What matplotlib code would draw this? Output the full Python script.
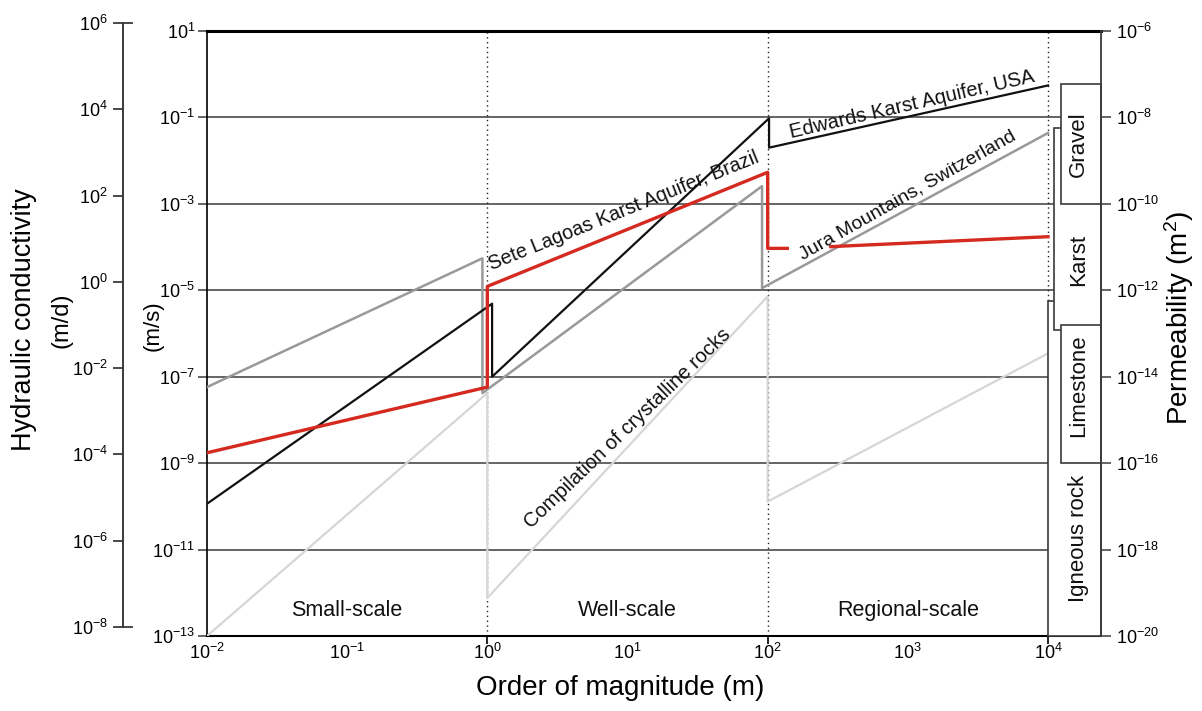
import numpy as np
import matplotlib
matplotlib.use('Agg')
from matplotlib import pyplot as plt
from matplotlib.patches import Rectangle
from matplotlib.ticker import FixedLocator, FuncFormatter, NullFormatter

plt.rcParams['font.family'] = ['Liberation Sans', 'DejaVu Sans']
plt.rcParams['mathtext.default'] = 'regular'

# log10 of scale (m) and of hydraulic conductivity (m/s)
crystalline_x = [-2, 0, 0, 2, 2, 4]
crystalline_k = [-13.0, -7.38, -12.12, -5.14, -9.89, -6.46]
jura_x = [-2, -0.035, -0.035, 1.96, 1.96, 4]
jura_k = [-7.24, -4.26, -7.38, -2.59, -4.95, -1.36]
edwards_x = [-2, 0.034, 0.034, 2.01, 2.01, 4]
edwards_k = [-9.94, -5.31, -7.0, -1.02, -1.70, -0.26]
sete_x = [-2, 0, 0, 2, 2, 2.14, np.nan, 2.45, 4]
sete_k = [-8.76, -7.24, -4.91, -2.27, -4.03, -4.03, np.nan, -3.99, -3.76]

# rock type ranges (log10 K, m/s)
rock_names = ['Igneous rock', 'Karst', 'Gravel', 'Limestone']
rock_k_low = [-13.0, -5.92, -3.0, -9.0]
rock_k_high = [-5.25, -1.24, -0.23, -5.8]

scale_names = ['Small-scale', 'Well-scale', 'Regional-scale']
scale_bounds = [-2, 0, 2, 4]

W, H = 1202, 711
dark = '#3a3a3a'


def fx(px):
    return px / W


def fy(py):
    return 1 - py / H


def p10(vals):
    return 10.0 ** np.asarray(vals, dtype=float)


def pow_fmt(v, pos):
    return r'$10^{%d}$' % int(round(np.log10(v)))


fig = plt.figure(figsize=(W / 100, H / 100), dpi=100)
ax = fig.add_axes([fx(207), fy(636), (1101 - 207) / W, (636 - 31) / H])
ax.set_xscale('log')
ax.set_yscale('log')
ax.set_xlim(1e-2, 10 ** (4 + 53 / 140.17))
ax.set_ylim(1e-13, 1e1)

# data lines
ax.plot(p10(crystalline_x), p10(crystalline_k), color='#d6d6d6', lw=1.6, zorder=3)
ax.plot(p10(jura_x), p10(jura_k), color='#999999', lw=1.8, zorder=3)
ax.plot(p10(edwards_x), p10(edwards_k), color='#111111', lw=1.6, zorder=3)
ax.plot(p10(sete_x), p10(sete_k), color='#d42a20', lw=2.4, zorder=4)

# scale boundaries
for b in scale_bounds[1:]:
    ax.axvline(10.0 ** b, color='#222222', ls=(0, (1, 2.5)), lw=1.0, zorder=2)

# rock type boxes
box_x0 = [0.0, 0.045, 0.09, 0.09]
label_y = [-10.75, -4.3, -1.62, -7.2]
x_right = ax.get_xlim()[1]
for name, lo, hi, dx, ly in zip(rock_names, rock_k_low, rock_k_high, box_x0, label_y):
    x0 = 10 ** (4 + dx)
    ax.add_patch(Rectangle((x0, 10 ** lo), x_right - x0, 10 ** hi - 10 ** lo,
                           facecolor='white', edgecolor=dark, lw=1.2, zorder=5, clip_on=False))
    ax.text(10 ** 4.22, 10 ** ly, name, rotation=90, ha='center', va='center',
            fontsize=16, color='#111111', zorder=6)

# scale labels
for i, name in enumerate(scale_names):
    xm = (scale_bounds[i] + scale_bounds[i + 1]) / 2
    ax.text(10 ** xm, 10 ** -12.4, name, ha='center', va='center', fontsize=15.5, color='#111111')

# line labels
ax.text(10 ** 0.97, 10 ** -3.17, 'Sete Lagoas Karst Aquifer, Brazil', rotation=22,
        ha='center', va='center', fontsize=14.2, color='#111111')
ax.text(10 ** 3.03, 10 ** -0.71, 'Edwards Karst Aquifer, USA', rotation=13,
        ha='center', va='center', fontsize=14.5, color='#111111')
ax.text(10 ** 3.0, 10 ** -2.8, 'Jura Mountains, Switzerland', rotation=29.5,
        ha='center', va='center', fontsize=14, color='#111111')
ax.text(10 ** 1.0, 10 ** -8.19, 'Compilation of crystalline rocks', rotation=44,
        ha='center', va='center', fontsize=14.5, color='#111111')

# main axis styling
ax.set_yticks(10.0 ** np.arange(1, -14, -2))
ax.yaxis.set_minor_locator(FixedLocator([]))
ax.yaxis.set_major_formatter(FuncFormatter(pow_fmt))
ax.yaxis.grid(True, color=dark, lw=1.1)
ax.tick_params(axis='y', which='major', length=6.5, width=1.1, color=dark, labelsize=13, pad=2)

ax.xaxis.set_major_locator(FixedLocator(10.0 ** np.arange(-2, 5)))
ax.xaxis.set_major_formatter(FuncFormatter(pow_fmt))
ax.xaxis.set_minor_locator(FixedLocator([10.0 ** b for b in scale_bounds[1:]]))
ax.xaxis.set_minor_formatter(NullFormatter())
ax.xaxis.remove_overlapping_locs = False
ax.tick_params(axis='x', which='major', length=0, labelsize=13, pad=5)
ax.tick_params(axis='x', which='minor', length=6, width=1.3, color='#111111')

ax.spines['top'].set_linewidth(2.2)
ax.spines['top'].set_color('black')
ax.spines['bottom'].set_linewidth(1.5)
ax.spines['left'].set_linewidth(1.2)
ax.spines['right'].set_visible(False)

# permeability axis (m^2)
ax2 = ax.twinx()
ax2.set_yscale('log')
ax2.set_ylim(np.array(ax.get_ylim()) * 1e-7)
ax2.set_yticks(10.0 ** np.arange(-6, -21, -2))
ax2.yaxis.set_minor_locator(FixedLocator([]))
ax2.yaxis.set_major_formatter(FuncFormatter(pow_fmt))
ax2.tick_params(axis='y', length=7, width=1.1, color=dark, labelsize=13, pad=4)
for s in ['left', 'top', 'bottom']:
    ax2.spines[s].set_visible(False)
ax2.spines['right'].set_color(dark)
ax2.spines['right'].set_linewidth(1.3)
ax2.spines['right'].set_zorder(6)

# hydraulic conductivity axis in m/d
axd = fig.add_axes([fx(123), fy(627), 0.0005, (627 - 23) / H])
axd.set_yscale('log')
axd.set_ylim(1e-8, 1e6)
axd.patch.set_visible(False)
for s in ['right', 'top', 'bottom']:
    axd.spines[s].set_visible(False)
axd.spines['left'].set_color(dark)
axd.spines['left'].set_linewidth(1.4)
axd.set_xticks([])
axd.set_yticks(10.0 ** np.arange(6, -9, -2))
axd.yaxis.set_major_formatter(FuncFormatter(pow_fmt))
axd.yaxis.set_minor_locator(FixedLocator([1e-8, 1e6]))
axd.yaxis.set_minor_formatter(NullFormatter())
axd.yaxis.remove_overlapping_locs = False
axd.tick_params(axis='y', which='major', direction='out', length=7, width=1.3, color=dark, labelsize=13, pad=4)
axd.tick_params(axis='y', which='minor', direction='in', length=7, width=1.3, color=dark)

# axis titles
fig.text(fx(24), fy(320), 'Hydraulic conductivity', rotation=90, ha='center', va='center', fontsize=19.5)
fig.text(fx(62), fy(320), '(m/d)', rotation=90, ha='center', va='center', fontsize=17)
fig.text(fx(153), fy(326), '(m/s)', rotation=90, ha='center', va='center', fontsize=16)
fig.text(fx(1179), fy(318), 'Permeability (m$^2$)', rotation=90, ha='center', va='center', fontsize=20)
fig.text(fx(620), fy(688), 'Order of magnitude (m)', ha='center', va='center', fontsize=20)

fig.savefig('out.png', dpi=100)
